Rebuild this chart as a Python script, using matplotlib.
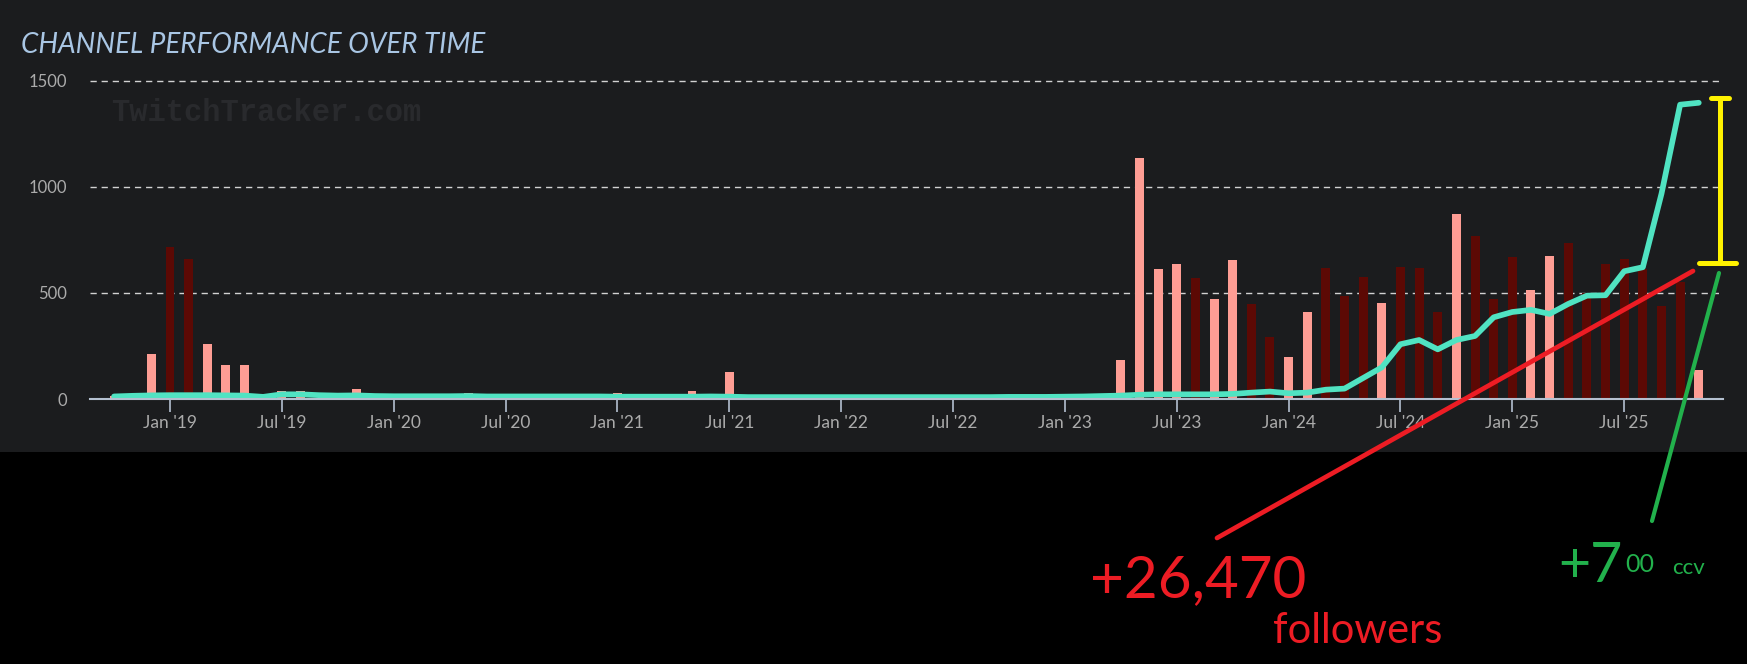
import numpy as np
import pandas as pd
import matplotlib
matplotlib.use("Agg")
import matplotlib.pyplot as plt
from matplotlib.patches import Rectangle
from matplotlib.lines import Line2D

W, H = 1747, 664

# one entry per month, Oct 2018 .. Nov 2025
months = pd.date_range("2018-10-01", "2025-11-01", freq="MS")

# monthly bars, 0 = no bar
bars_2018 = [12, 0, 210]
bars_2019 = [718, 661, 260, 159, 159, 0, 38, 38, 0, 0, 45, 0]
bars_2020 = [0, 0, 0, 0, 28, 0, 0, 0, 0, 0, 0, 0]
bars_2021 = [28, 0, 0, 0, 40, 0, 128, 0, 0, 0, 0, 0]
bars_2022 = [0, 0, 0, 0, 0, 0, 0, 0, 0, 0, 0, 0]
bars_2023 = [0, 0, 0, 182, 1136, 613, 635, 568, 469, 653, 448, 292]
bars_2024 = [200, 412, 618, 484, 575, 454, 624, 618, 412, 873, 766, 469]
bars_2025 = [667, 513, 675, 737, 500, 638, 659, 613, 440, 550, 137]

# bar shade: p = light (salmon), d = dark (maroon)
kind_2018 = "ppp"
kind_2019 = "ddpppppppppp"
kind_2020 = "pppppppppppp"
kind_2021 = "pppppppppppp"
kind_2022 = "pppppppppppp"
kind_2023 = "pppppppdppdd"
kind_2024 = "ppdddpdddpdd"
kind_2025 = "dppddddddd" + "p"

# average viewers line
line_2018 = [12, 15, 17]
line_2019 = [18, 18, 18, 17, 16, 10, 22, 22, 18, 16, 17, 14]
line_2020 = [13, 13, 13, 13, 14, 12, 12, 12, 12, 12, 12, 12]
line_2021 = [11, 11, 11, 11, 11, 12, 11, 9, 9, 9, 9, 9]
line_2022 = [9, 9, 9, 9, 9, 9, 9, 9, 9, 10, 10, 10]
line_2023 = [11, 12, 14, 16, 20, 22, 22, 22, 22, 24, 30, 35]
line_2024 = [27, 30, 44, 49, 99, 149, 258, 278, 234, 278, 297, 385]
line_2025 = [410, 420, 401, 448, 487, 489, 602, 621, 967, 1387, 1396]

bars = bars_2018 + bars_2019 + bars_2020 + bars_2021 + bars_2022 + bars_2023 + bars_2024 + bars_2025
kinds = kind_2018 + kind_2019 + kind_2020 + kind_2021 + kind_2022 + kind_2023 + kind_2024 + kind_2025
line = line_2018 + line_2019 + line_2020 + line_2021 + line_2022 + line_2023 + line_2024 + line_2025

y_ticks = [0, 500, 1000, 1500]

PANEL = "#1b1c1e"
PINK = "#fe9d94"
MAROON = "#5c0904"
TEAL = "#50e3c2"
GRID = "#d2d2d2"
AXIS = "#b4c0d0"
LABEL = "#ababab"

x = np.arange(len(months))

fig = plt.figure(figsize=(W / 100, H / 100), dpi=100, facecolor="black")
fig.patches.append(Rectangle((0, 1 - 452 / H), 1, 452 / H, transform=fig.transFigure,
                             facecolor=PANEL, edgecolor="none", zorder=-5))

ax = fig.add_axes([90 / W, 1 - 399 / H, (1723 - 90) / W, (399 - 80.7) / H])
ax.set_facecolor("none")
ax.set_zorder(2)

colors = [MAROON if k == "d" else PINK for k in kinds]
ax.bar(x, bars, width=0.48, color=colors, zorder=2)
ax.plot(x, line, color=TEAL, lw=4.1, solid_joinstyle="round",
        solid_capstyle="round", zorder=3)

ax.set_xlim(-1.29, 86.3)
ax.set_ylim(0, 1500)

for v in y_ticks[1:]:
    ax.axhline(v, color=GRID, lw=1.0, dashes=(4.5, 3.5), zorder=1, clip_on=False)

for s in ("top", "right", "left"):
    ax.spines[s].set_visible(False)
ax.spines["bottom"].set_color(AXIS)
ax.spines["bottom"].set_linewidth(1.5)
ax.spines["bottom"].set_zorder(4)

tick_pos = [i for i, m in enumerate(months) if m.month in (1, 7)]
tick_lab = [m.strftime("%b '%y") for m in months if m.month in (1, 7)]
ax.set_xticks(tick_pos, tick_lab)
ax.set_yticks(y_ticks, [str(v) for v in y_ticks])
ax.tick_params(axis="x", length=9.4, width=1.2, color=AXIS, pad=2,
               labelsize=12.5, labelcolor=LABEL)
ax.tick_params(axis="y", length=0, pad=16.5, labelsize=12, labelcolor=LABEL)
for lab in ax.get_xticklabels() + ax.get_yticklabels():
    lab.set_family("Lato")

# title and watermark
fig.text(21 / W, 1 - 53 / H, "CHANNEL PERFORMANCE OVER TIME", family="Lato",
         style="italic", fontsize=20, color="#a9c6e4", va="baseline", ha="left")
fig.text(111 / W, 1 - 113 / H, "TwitchTracker.com", family="Liberation Mono",
         weight="bold", fontsize=22, color="#292a2d", va="center", ha="left", zorder=1)


def fp(px, py):
    return px / W, 1 - py / H


def stroke(p0, p1, color, lw):
    (x0, y0), (x1, y1) = fp(*p0), fp(*p1)
    fig.add_artist(Line2D([x0, x1], [y0, y1], transform=fig.transFigure,
                          color=color, lw=lw, solid_capstyle="round", zorder=10))


RED = "#ed1c24"
GREEN = "#22b14c"
YELLOW = "#fff200"

stroke((1217, 538), (1693, 271), RED, 3.4)
stroke((1652, 521), (1719, 273), GREEN, 3.0)
stroke((1720, 98), (1720, 263), YELLOW, 3.6)
stroke((1711, 98), (1729, 98), YELLOW, 3.6)
stroke((1699, 263), (1736, 263), YELLOW, 3.6)

fig.text(*fp(1090, 597), "+26,470", family="Lato", fontsize=42, color=RED,
         va="baseline", ha="left", zorder=10)
fig.text(*fp(1273, 643), "followers", family="Lato", fontsize=30, color=RED,
         va="baseline", ha="left", zorder=10)
fig.text(*fp(1558, 582), "+7", family="Lato", fontsize=40, color=GREEN,
         va="baseline", ha="left", zorder=10)
fig.text(*fp(1625, 572), "00", family="Lato", fontsize=18, color=GREEN,
         va="baseline", ha="left", zorder=10)
fig.text(*fp(1672, 574), "ccv", family="Lato", fontsize=16, color=GREEN,
         va="baseline", ha="left", zorder=10)

fig.savefig("out.png", dpi=100, facecolor="black")
